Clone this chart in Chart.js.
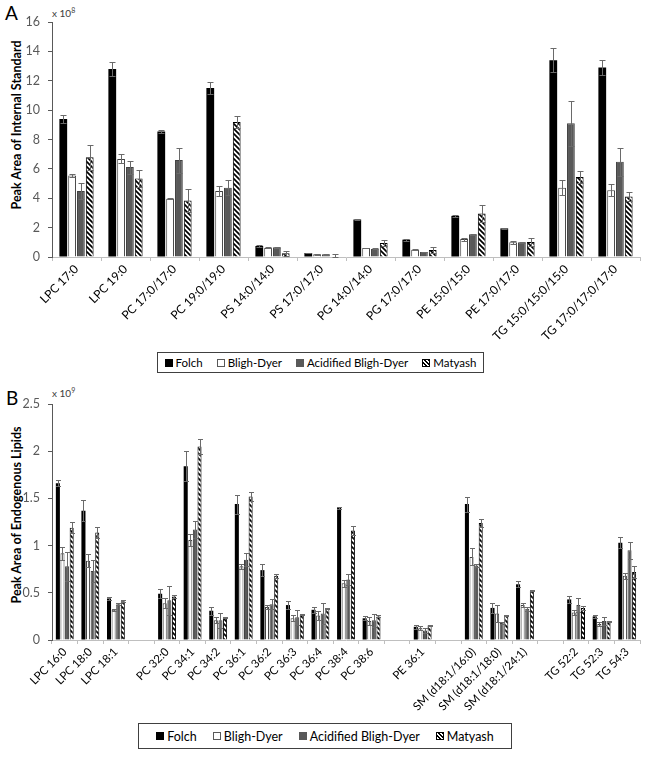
<!DOCTYPE html>
<html lang="en">
<head>
<meta charset="UTF-8">
<title>Peak areas by extraction method</title>
<script src="https://cdn.jsdelivr.net/npm/chart.js"></script>
<style>
  body { margin: 0; background: #fff; font-family: Lato, "Open Sans", sans-serif; }
  #wrap { position: relative; width: 650px; height: 757px; overflow: hidden; }
  canvas { position: absolute; left: 0; }
  .letter { position: absolute; font-size: 19px; color: #000; }
  .exp { position: absolute; font-size: 10px; color: #404040; }
  .exp sup { font-size: 7px; }
  .ytitle { position: absolute; width: 300px; height: 16px; line-height: 16px; text-align: center;
            font-weight: bold; font-size: 12.5px; transform: rotate(-90deg); color: #000; }
  .legend { position: absolute; border: 1px solid #404040; box-sizing: border-box;
            display: flex; align-items: center; justify-content: center; gap: 14px; color: #000; }
  .legend span { display: inline-flex; align-items: center; }
  .sw { display: inline-block; width: 8px; height: 8px; margin-right: 3px; box-sizing: border-box; }
</style>
</head>
<body>
<div id="wrap">
  <div class="letter" style="left:5px;top:1px">A</div>
  <div class="exp" style="left:52px;top:6px">x 10<sup>8</sup></div>
  <div class="ytitle" style="left:-133px;top:117px">Peak Area of Internal Standard</div>
  <canvas id="chartA" width="650" height="350" style="top:0"></canvas>
  <div class="legend" style="left:157px;top:352px;width:327px;height:21px;font-size:11.5px">
    <span><i class="sw" style="background:#000"></i>Folch</span>
    <span><i class="sw" style="background:#fff;border:1px solid #595959"></i>Bligh-Dyer</span>
    <span><i class="sw" style="background:#595959"></i>Acidified Bligh-Dyer</span>
    <span><i class="sw hatch"></i>Matyash</span>
  </div>

  <div class="letter" style="left:6px;top:386px">B</div>
  <div class="exp" style="left:52px;top:386px">x 10<sup>9</sup></div>
  <div class="ytitle" style="left:-133px;top:507px">Peak Area of Endogenous Lipids</div>
  <canvas id="chartB" width="650" height="337" style="top:385px"></canvas>
  <div class="legend" style="left:138px;top:723px;width:374px;height:26px;font-size:12.5px;gap:16px">
    <span><i class="sw" style="background:#000"></i>Folch</span>
    <span><i class="sw" style="background:#fff;border:1px solid #595959"></i>Bligh-Dyer</span>
    <span><i class="sw" style="background:#595959"></i>Acidified Bligh-Dyer</span>
    <span><i class="sw hatch"></i>Matyash</span>
  </div>
</div>

<script>
// Panel A: internal standards, x 10^8
const stdLabels = ['LPC 17:0', 'LPC 19:0', 'PC 17:0/17:0', 'PC 19:0/19:0', 'PS 14:0/14:0', 'PS 17:0/17:0',
  'PG 14:0/14:0', 'PG 17:0/17:0', 'PE 15:0/15:0', 'PE 17:0/17:0', 'TG 15:0/15:0/15:0', 'TG 17:0/17:0/17:0'];
const stdFolch = [9.4, 12.8, 8.55, 11.5, 0.75, 0.27, 2.55, 1.18, 2.8, 1.95, 13.4, 12.9];
const stdFolchErr = [0.3, 0.45, 0.1, 0.4, 0.05, 0.03, 0.05, 0.07, 0.05, 0.05, 0.8, 0.5];
const stdBD = [5.55, 6.68, 3.97, 4.5, 0.62, 0.18, 0.61, 0.5, 1.22, 1.0, 4.72, 4.55];
const stdBDErr = [0.12, 0.3, 0.04, 0.35, 0.03, 0.02, 0.03, 0.03, 0.1, 0.1, 0.52, 0.4];
const stdABD = [4.5, 6.12, 6.6, 4.72, 0.66, 0.18, 0.55, 0.34, 1.55, 1.0, 9.1, 6.48];
const stdABDErr = [0.52, 0.45, 0.85, 0.53, 0.03, 0.03, 0.03, 0.03, 0.03, 0.05, 1.55, 0.95];
const stdMat = [6.8, 5.35, 3.85, 9.2, 0.25, 0.03, 0.95, 0.48, 2.96, 1.02, 5.45, 4.12];
const stdMatErr = [0.85, 0.6, 0.78, 0.4, 0.18, 0.2, 0.18, 0.22, 0.55, 0.3, 0.4, 0.3];

// Panel B: endogenous lipids, x 10^9 (empty labels are the gaps between classes)
const lipLabels = ['LPC 16:0', 'LPC 18:0', 'LPC 18:1', '', 'PC 32:0', 'PC 34:1', 'PC 34:2', 'PC 36:1', 'PC 36:2',
  'PC 36:3', 'PC 36:4', 'PC 38:4', 'PC 38:6', '', 'PE 36:1', '', 'SM (d18:1/16:0)', 'SM (d18:1/18:0)',
  'SM (d18:1/24:1)', '', 'TG 52:2', 'TG 52:3', 'TG 54:3'];
const lipFolch = [1.66, 1.37, 0.44, null, 0.49, 1.84, 0.31, 1.44, 0.74, 0.37, 0.32, 1.40, 0.23, null, 0.14, null, 1.44, 0.34, 0.59, null, 0.43, 0.25, 1.03];
const lipFolchErr = [0.03, 0.11, 0.02, null, 0.05, 0.16, 0.04, 0.1, 0.06, 0.04, 0.03, 0.01, 0.02, null, 0.02, null, 0.08, 0.05, 0.03, null, 0.04, 0.02, 0.06];
const lipBD = [0.92, 0.84, 0.32, null, 0.39, 1.06, 0.21, 0.78, 0.35, 0.23, 0.26, 0.6, 0.2, null, 0.13, null, 0.88, 0.28, 0.37, null, 0.29, 0.17, 0.68];
const lipBDErr = [0.07, 0.07, 0.01, null, 0.05, 0.06, 0.03, 0.03, 0.02, 0.03, 0.05, 0.04, 0.04, null, 0.02, null, 0.09, 0.09, 0.02, null, 0.03, 0.02, 0.03];
const lipABD = [0.78, 0.73, 0.38, null, 0.42, 1.17, 0.21, 0.85, 0.38, 0.24, 0.28, 0.64, 0.21, null, 0.1, null, 0.79, 0.18, 0.33, null, 0.37, 0.2, 0.95];
const lipABDErr = [0.15, 0.12, 0.01, null, 0.15, 0.09, 0.08, 0.07, 0.05, 0.08, 0.11, 0.06, 0.07, null, 0.03, null, 0.02, 0.01, 0.02, null, 0.07, 0.04, 0.09];
const lipMat = [1.19, 1.14, 0.41, null, 0.46, 2.05, 0.24, 1.52, 0.68, 0.27, 0.33, 1.16, 0.25, null, 0.155, null, 1.24, 0.26, 0.52, null, 0.34, 0.2, 0.72];
const lipMatErr = [0.06, 0.06, 0.01, null, 0.02, 0.08, 0.005, 0.05, 0.02, 0.005, 0.005, 0.05, 0.01, null, 0.005, null, 0.04, 0.005, 0.005, null, 0.02, 0.005, 0.06];

const FONT = 'Lato';

// black/white diagonal hatch for the Matyash bars
function hatch(ctx) {
  const n = 5;
  const c = document.createElement('canvas');
  c.width = n; c.height = n;
  const g = c.getContext('2d');
  g.fillStyle = '#fff';
  g.fillRect(0, 0, n, n);
  g.strokeStyle = '#000';
  g.lineWidth = 1.7;
  g.beginPath();
  g.moveTo(-1, -1); g.lineTo(n + 1, n + 1);
  g.moveTo(-1, n - 1); g.lineTo(1, n + 1);
  g.moveTo(n - 1, -1); g.lineTo(n + 1, 1);
  g.stroke();
  return ctx.createPattern(c, 'repeat');
}

document.querySelectorAll('.hatch').forEach(el => {
  el.style.border = '1px solid #000';
  el.style.background = 'repeating-linear-gradient(45deg, #fff 0 1.5px, #000 1.5px 3px)';
});

const errorBars = {
  id: 'errorBars',
  afterDatasetsDraw(chart) {
    const ctx = chart.ctx;
    const ys = chart.scales.y;
    const cap = chart.options.plugins.errorBars.cap;
    ctx.save();
    ctx.strokeStyle = '#6a6a6a';
    ctx.lineWidth = 1;
    chart.data.datasets.forEach((ds, i) => {
      chart.getDatasetMeta(i).data.forEach((bar, j) => {
        const v = ds.data[j], e = ds.errors[j];
        if (v == null || e == null) return;
        const x = Math.round(bar.x) + 0.5;
        const top = Math.round(ys.getPixelForValue(v + e)) + 0.5;
        const bot = Math.round(ys.getPixelForValue(Math.max(v - e, 0))) + 0.5;
        ctx.beginPath();
        ctx.moveTo(x, top); ctx.lineTo(x, bot);
        ctx.moveTo(x - cap, top); ctx.lineTo(x + cap, top);
        ctx.moveTo(x - cap, bot); ctx.lineTo(x + cap, bot);
        ctx.stroke();
      });
    });
    ctx.restore();
  }
};

function makeChart(id, labels, series, yMax, yStep, plotTop, plotBottom, cap, fontSize) {
  const canvas = document.getElementById(id);
  const ctx = canvas.getContext('2d');
  const H = canvas.height;
  const styles = [
    { label: 'Folch', backgroundColor: '#000', borderColor: '#000', borderWidth: 0 },
    { label: 'Bligh-Dyer', backgroundColor: '#fff', borderColor: '#404040', borderWidth: 1 },
    { label: 'Acidified Bligh-Dyer', backgroundColor: '#595959', borderColor: '#404040', borderWidth: 1 },
    { label: 'Matyash', backgroundColor: hatch(ctx), borderColor: '#000', borderWidth: 1 }
  ];
  return new Chart(ctx, {
    type: 'bar',
    data: {
      labels: labels,
      datasets: series.map((s, i) => Object.assign({}, styles[i], {
        data: s[0], errors: s[1], categoryPercentage: 0.72, barPercentage: 0.88
      }))
    },
    options: {
      responsive: false,
      animation: false,
      layout: { padding: { top: plotTop, right: 10, left: 0, bottom: 0 } },
      plugins: {
        legend: { display: false },
        tooltip: { enabled: false },
        errorBars: { cap: cap }
      },
      scales: {
        x: {
          afterFit(scale) { scale.height = H - plotBottom; },
          grid: { display: true, drawOnChartArea: false, drawTicks: true, tickLength: 4, color: '#bfbfbf' },
          border: { color: '#bfbfbf', width: 1 },
          ticks: { autoSkip: false, maxRotation: 45, minRotation: 45, color: '#000', padding: 1,
                   font: { family: FONT, size: fontSize } }
        },
        y: {
          min: 0, max: yMax,
          afterFit(scale) { scale.width = 52; },
          grid: { display: true, drawOnChartArea: false, drawTicks: true, tickLength: 4, color: '#595959' },
          border: { color: '#595959', width: 1 },
          ticks: { stepSize: yStep, color: '#595959', padding: 8, font: { family: FONT, size: 12.5 },
                   callback: v => String(Number(v.toFixed(2))) }
        }
      }
    },
    plugins: [errorBars]
  });
}

makeChart('chartA', stdLabels, [
  [stdFolch, stdFolchErr], [stdBD, stdBDErr], [stdABD, stdABDErr], [stdMat, stdMatErr]
], 16, 2, 22, 257, 3, 12);

makeChart('chartB', lipLabels, [
  [lipFolch, lipFolchErr], [lipBD, lipBDErr], [lipABD, lipABDErr], [lipMat, lipMatErr]
], 2.5, 0.5, 19, 255, 2.5, 11.5);
</script>
</body>
</html>
